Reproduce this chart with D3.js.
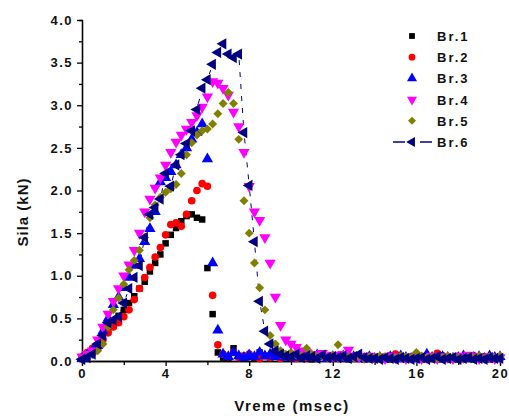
<!DOCTYPE html>
<html>
<head>
<meta charset="utf-8">
<style>
    body { margin: 0; background: #fff; }
    text { font-family: "Liberation Sans", Arial, sans-serif; font-weight: bold; }
</style>
</head>
<body>
<div id="chart"></div>
<script src="https://d3js.org/d3.v7.min.js"></script>
<script type="text/javascript">
    // sampling times (msec)
    var time = [0, 0.25, 0.5, 0.75, 1, 1.25, 1.5, 1.75, 2, 2.25, 2.5, 2.75, 3, 3.25, 3.5, 3.75,
        4, 4.25, 4.5, 4.75, 5, 5.25, 5.5, 5.75, 6, 6.25, 6.5, 6.75, 7, 7.25, 7.5, 7.75,
        8, 8.25, 8.5, 8.75, 9, 9.25, 9.5, 9.75, 10, 10.25, 10.5, 10.75, 11, 11.25, 11.5, 11.75,
        12, 12.25, 12.5, 12.75, 13, 13.25, 13.5, 13.75, 14, 14.25, 14.5, 14.75, 15, 15.25, 15.5, 15.75,
        16, 16.25, 16.5, 16.75, 17, 17.25, 17.5, 17.75, 18, 18.25, 18.5, 18.75, 19, 19.25, 19.5, 19.75, 20];

    // force (kN) for each test
    var br1 = [0.03, 0.05, 0.1, 0.18, 0.3, 0.37, 0.45, 0.53,
        0.6, 0.68, 0.76, 0.85, 0.93, 1.05, 1.15, 1.25,
        1.38, 1.48, 1.56, 1.64, 1.7, 1.72, 1.68, 1.66,
        1.09, 0.55, 0.1, 0.04, 0.03, 0.15, 0.06, 0.04,
        0.05, 0.03, 0.1, 0.06, 0.04, 0.07, 0.03, 0.05,
        0.04, 0.06, 0.03, 0.05, 0.02, 0.04, 0.06, 0.03,
        0.05, 0.03, 0.04, 0.02, 0.03, 0.05, 0.02, 0.03,
        0.02, 0.04, 0.03, 0.02, 0.05, 0.03, 0.02, 0.04,
        0.03, 0.02, 0.04, 0.03, 0.05, 0.02, 0.03, 0.04,
        0.02, 0.03, 0.05, 0.02, 0.03, 0.04, 0.02, 0.03, 0.04];
    var br2 = [0.05, 0.1, 0.15, 0.14, 0.25, 0.33, 0.4, 0.45,
        0.52, 0.6, 0.72, 0.85, 0.98, 1.1, 1.22, 1.33,
        1.48, 1.6, 1.62, 1.58, 1.72, 1.88, 2.0, 2.08,
        2.05, 0.77, 0.19, 0.08, 0.05, 0.1, 0.04, 0.06,
        0.08, 0.05, 0.03, 0.06, 0.04, 0.07, 0.03, 0.05,
        0.04, 0.03, 0.06, 0.04, 0.05, 0.03, 0.06, 0.04,
        0.03, 0.05, 0.04, 0.06, 0.03, 0.04, 0.05, 0.03,
        0.04, 0.03, 0.05, 0.06, 0.08, 0.04, 0.03, 0.05,
        0.04, 0.03, 0.05, 0.04, 0.09, 0.06, 0.03, 0.04,
        0.05, 0.03, 0.04, 0.06, 0.03, 0.05, 0.04, 0.03, 0.05];
    var br3 = [0.03, 0.07, 0.12, 0.18, 0.35, 0.5, 0.66, 0.75,
        0.86, 0.98, 1.12, 1.2, 1.4, 1.55, 1.75, 2.1,
        2.15, 2.22, 2.3, 2.42, 2.5, 2.6, 2.68, 2.78,
        2.37, 1.15, 0.36, 0.08, 0.05, 0.1, 0.06, 0.04,
        0.07, 0.05, 0.1, 0.06, 0.08, 0.05, 0.07, 0.04,
        0.06, 0.04, 0.08, 0.05, 0.04, 0.07, 0.05, 0.03,
        0.05, 0.04, 0.06, 0.03, 0.05, 0.04, 0.03, 0.05,
        0.03, 0.04, 0.02, 0.05, 0.03, 0.06, 0.04, 0.03,
        0.05, 0.03, 0.08, 0.04, 0.03, 0.05, 0.04, 0.03,
        0.04, 0.06, 0.03, 0.04, 0.05, 0.03, 0.06, 0.04, 0.05];
    var br4 = [0.05, 0.08, 0.12, 0.25, 0.4, 0.55, 0.7, 0.85,
        1.0, 1.13, 1.3, 1.5, 1.75, 1.9, 2.03, 2.15,
        2.3, 2.45, 2.57, 2.65, 2.72, 2.8, 2.88, 2.98,
        3.1, 3.28, 3.26, 3.2, 3.12, 2.92, 2.75, 2.45,
        2.05, 1.75, 1.65, 1.45, 1.15, 0.75, 0.42, 0.25,
        0.2, 0.16, 0.12, 0.1, 0.08, 0.07, 0.09, 0.06,
        0.07, 0.05, 0.08, 0.13, 0.06, 0.05, 0.04, 0.06,
        0.04, 0.05, 0.03, 0.06, 0.04, 0.05, 0.03, 0.04,
        0.05, 0.03, 0.04, 0.06, 0.03, 0.05, 0.04, 0.03,
        0.06, 0.04, 0.07, 0.05, 0.03, 0.04, 0.05, 0.03, 0.04];
    var br5 = [0.02, 0.05, 0.08, 0.12, 0.2, 0.4, 0.6, 0.74,
        0.9, 1.07, 1.18, 1.3, 1.45, 1.68, 1.83, 1.92,
        1.98, 2.02, 2.07, 2.2, 2.42, 2.56, 2.65, 2.7,
        2.72, 2.78, 2.9, 3.02, 3.15, 3.02, 2.6, 1.88,
        1.5, 1.15, 0.86, 0.6, 0.3, 0.2, 0.12, 0.08,
        0.1, 0.07, 0.06, 0.15, 0.08, 0.05, 0.06, 0.04,
        0.07, 0.19, 0.06, 0.05, 0.04, 0.06, 0.03, 0.05,
        0.04, 0.06, 0.05, 0.03, 0.04, 0.06, 0.05, 0.04,
        0.1, 0.06, 0.04, 0.05, 0.03, 0.04, 0.06, 0.05,
        0.04, 0.03, 0.05, 0.04, 0.06, 0.03, 0.05, 0.04, 0.06];
    var br6 = [0.02, 0.04, 0.08, 0.2, 0.3, 0.45, 0.48, 0.52,
        0.68, 0.85, 0.98, 1.12, 1.45, 1.72, 1.8, 1.9,
        2.2, 2.05, 2.3, 2.42, 2.55, 2.7, 2.95, 3.2,
        3.3, 3.48, 3.62, 3.72, 3.6, 3.56, 3.6, 2.68,
        2.06, 1.4, 0.7, 0.35, 0.2, 0.12, 0.08, 0.06,
        0.05, 0.08, 0.04, 0.06, 0.05, 0.03, 0.07, 0.04,
        0.05, 0.04, 0.06, 0.03, 0.05, 0.08, 0.04, 0.03,
        0.03, 0.02, 0.04, 0.03, 0.02, 0.04, 0.03, 0.02,
        0.03, 0.04, 0.02, 0.03, 0.05, 0.02, 0.03, 0.04,
        0.02, 0.03, 0.04, 0.02, 0.03, 0.02, 0.04, 0.03, 0.03];

    var names = ["Br.1", "Br.2", "Br.3", "Br.4", "Br.5", "Br.6"];
    var colors = ["#000000", "#ff0000", "#0000ff", "#ff00ff", "#808000", "#000080"];
    var xTicks = [0, 4, 8, 12, 16, 20];
    var xMinor = [2, 6, 10, 14, 18];
    var yTicks = [0, 0.5, 1, 1.5, 2, 2.5, 3, 3.5, 4];
    var yMinor = [0.25, 0.75, 1.25, 1.75, 2.25, 2.75, 3.25, 3.75];

    var allSeries = [br1, br2, br3, br4, br5, br6];

    // symbol shape + rotation per series
    var shapes = [
        { type: d3.symbolSquare, size: 42, rot: 0 },
        { type: d3.symbolCircle, size: 46, rot: 0 },
        { type: d3.symbolTriangle, size: 55, rot: 0 },
        { type: d3.symbolTriangle, size: 55, rot: 180 },
        { type: d3.symbolSquare, size: 40, rot: 45 },
        { type: d3.symbolTriangle, size: 55, rot: -90 }
    ];

    var w = 509;
    var h = 416;

    var svg = d3.select('#chart')
        .append('svg')
        .attr('width', w)
        .attr('height', h);

    var x = d3.scaleLinear().domain([0, 20]).range([82, 500]);
    var y = d3.scaleLinear().domain([0, 4]).range([361, 20]);

    // minor ticks first
    svg.append('g')
        .attr('transform', 'translate(0,' + y(0) + ')')
        .call(d3.axisBottom(x).tickValues(xMinor).tickSize(4).tickFormat(''));
    svg.append('g')
        .attr('transform', 'translate(' + x(0) + ',0)')
        .call(d3.axisLeft(y).tickValues(yMinor).tickSize(3).tickFormat(''));

    svg.append('g')
        .attr('transform', 'translate(0,' + y(0) + ')')
        .call(d3.axisBottom(x).tickValues(xTicks).tickSize(5).tickSizeOuter(0).tickPadding(3)
            .tickFormat(d3.format('d')));
    svg.append('g')
        .attr('transform', 'translate(' + x(0) + ',0)')
        .call(d3.axisLeft(y).tickValues(yTicks).tickSize(5).tickSizeOuter(0).tickPadding(4)
            .tickFormat(d3.format('.1f')));

    svg.selectAll('.domain, .tick line')
        .attr('stroke', '#000')
        .attr('stroke-width', 1.3);

    svg.selectAll('.tick text')
        .attr('fill', '#111')
        .style('font-size', '13px')
        .style('letter-spacing', '1.5px');

    // thin connecting line for Br.6, broken at each symbol
    var gap = 6;
    var segs = [];
    for (var i = 1; i < br6.length; i++) {
        var x0 = x(time[i - 1]), y0 = y(br6[i - 1]);
        var x1 = x(time[i]), y1 = y(br6[i]);
        var len = Math.sqrt((x1 - x0) * (x1 - x0) + (y1 - y0) * (y1 - y0));
        if (len > 2 * gap + 2) {
            var ux = (x1 - x0) / len, uy = (y1 - y0) / len;
            segs.push([x0 + ux * gap, y0 + uy * gap, x1 - ux * gap, y1 - uy * gap]);
        }
    }
    svg.append('g')
        .selectAll('line')
        .data(segs)
        .enter()
        .append('line')
        .attr('x1', function (d) { return d[0]; })
        .attr('y1', function (d) { return d[1]; })
        .attr('x2', function (d) { return d[2]; })
        .attr('y2', function (d) { return d[3]; })
        .attr('stroke', colors[5])
        .attr('stroke-width', 1)
        .attr('stroke-dasharray', '5,7');

    // symbols
    allSeries.forEach(function (vals, s) {
        var sym = d3.symbol().type(shapes[s].type).size(shapes[s].size);
        svg.append('g')
            .selectAll('path')
            .data(vals)
            .enter()
            .append('path')
            .attr('d', sym)
            .attr('transform', function (d, i) {
                return 'translate(' + x(time[i]) + ',' + y(d) + ') rotate(' + shapes[s].rot + ')';
            })
            .attr('fill', colors[s]);
    });

    // axis titles
    svg.append('text')
        .attr('x', 292)
        .attr('y', 411)
        .attr('text-anchor', 'middle')
        .style('font-size', '15px')
        .style('letter-spacing', '1.5px')
        .attr('fill', '#111')
        .text('Vreme (msec)');

    svg.append('text')
        .attr('transform', 'translate(28,' + 212 + ') rotate(-90)')
        .attr('text-anchor', 'middle')
        .style('font-size', '15px')
        .style('letter-spacing', '1px')
        .attr('fill', '#111')
        .text('Sila (kN)');

    // legend
    var leg = svg.append('g');
    names.forEach(function (n, s) {
        var ly = 36 + s * 21.2;
        if (s == 5) {
            leg.append('line').attr('x1', 393).attr('x2', 405).attr('y1', ly).attr('y2', ly)
                .attr('stroke', colors[s]).attr('stroke-width', 1.5);
            leg.append('line').attr('x1', 420).attr('x2', 432).attr('y1', ly).attr('y2', ly)
                .attr('stroke', colors[s]).attr('stroke-width', 1.5);
        }
        leg.append('path')
            .attr('d', d3.symbol().type(shapes[s].type).size(shapes[s].size * 0.8))
            .attr('transform', 'translate(412,' + ly + ') rotate(' + shapes[s].rot + ')')
            .attr('fill', colors[s]);
        leg.append('text')
            .attr('x', 437)
            .attr('y', ly + 5)
            .style('font-size', '13px')
            .style('letter-spacing', '2px')
            .attr('fill', '#111')
            .text(n);
    });
</script>
</body>
</html>
